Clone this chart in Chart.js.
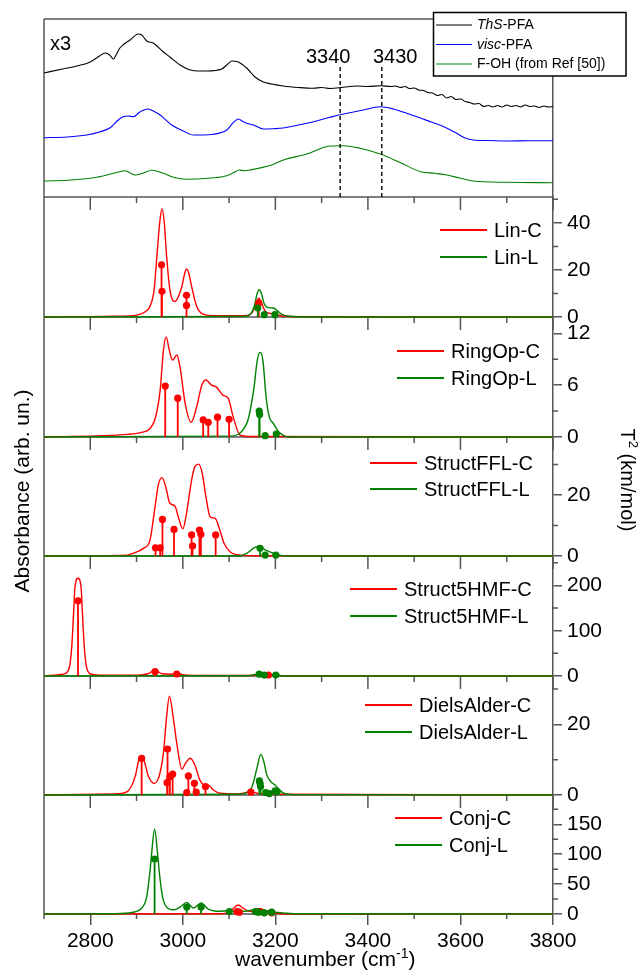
<!DOCTYPE html>
<html>
<head>
<meta charset="utf-8">
<script src="https://cdn.jsdelivr.net/npm/chart.js@4.4.1/dist/chart.umd.min.js"></script>
<style>
  html, body { margin: 0; padding: 0; background: #fff; }
  canvas { display: block; }
</style>
</head>
<body>
<canvas id="spectra" width="644" height="973"></canvas>
<script>
// wavenumber axis (cm-1)
const xMin = 2700, xMax = 3800;
const xMajor = [2800, 3000, 3200, 3400, 3600, 3800];
const xMinor = [2700, 2900, 3100, 3300, 3500, 3700];

// experimental spectra, offset stack (arb. un.)
const thsPfa = [[2700,124],[2740,128],[2771,131],[2800,135],[2820,141],[2832,144],[2842,142],[2850,138],[2857,143],[2864,149],[2886,157],[2904,163],[2910,162.5],[2915,160],[2922,156],[2936,154],[2958,145],[2972,140],[2994,132],[3016,127],[3035,126],[3052,126],[3084,128],[3095,132],[3106,136],[3120,135],[3138,129],[3156,120],[3174,115],[3192,113],[3217,111],[3250,109.5],[3282,108.7],[3300,109.5],[3318,108.5],[3347,109.7],[3376,111],[3400,110.5],[3427,111.3],[3450,110.5],[3460,111],[3470,109.5],[3480,110.5],[3490,108.5],[3500,109],[3510,107],[3520,106.5],[3530,104.5],[3540,104],[3550,101.5],[3560,102.5],[3570,99],[3580,100.5],[3590,97.5],[3600,98],[3610,95.5],[3620,94.5],[3630,93],[3640,93.5],[3650,90.5],[3660,91.5],[3670,90],[3680,91.5],[3690,90],[3700,92],[3710,90.5],[3720,91.5],[3730,90],[3740,92],[3750,90.5],[3760,91],[3770,89.5],[3780,91],[3790,90],[3800,90.5]];
const viscPfa = [[2700,59.3],[2750,60],[2792,62],[2820,65],[2843,69.3],[2858,76],[2871,80.3],[2882,81],[2893,80.3],[2908,85.3],[2924,88],[2940,85],[2951,82],[2976,72],[3001,66],[3023,62],[3045,62],[3066,62.7],[3095,67],[3109,74.3],[3120,78],[3130,75.5],[3138,73.7],[3153,72],[3174,68],[3195,68.3],[3217,69],[3268,73.7],[3318,79.7],[3347,83],[3390,87],[3427,90.3],[3455,88],[3484,83.7],[3535,75.3],[3564,70.3],[3592,63.7],[3610,59],[3628,57],[3660,56.5],[3700,56],[3750,56.3],[3800,56.3]];
const fOh = [[2700,16],[2760,17],[2814,19.7],[2850,23.7],[2865,25.5],[2875,26.3],[2886,24],[2897,22],[2915,24],[2933,26.7],[2958,23.7],[2980,19.7],[3008,17.7],[3060,19],[3095,21.3],[3110,24.5],[3122,27],[3133,26.3],[3142,26.7],[3163,28.7],[3192,32],[3217,37],[3268,43],[3318,51],[3347,51.3],[3383,48.7],[3427,43],[3473,33.7],[3514,25.3],[3545,23.7],[3571,22],[3600,18.7],[3628,16],[3700,14.7],[3800,14.3]];
const expNames = ['ThS-PFA', 'visc-PFA', 'F-OH (from Ref [50])'];
const bandMarks = [3340, 3430];

// computed spectra (broadened) and sticks, T^2 in km/mol
const linC = [[2700,0],[2850,0.3],[2900,0.8],[2915,1.8],[2929,4.5],[2938,11.6],[2944,25.8],[2950,40],[2955,46],[2960,40],[2965,25.8],[2972,11.6],[2978,7.2],[2983,6.6],[2990,8.5],[2998,13],[3004,18.5],[3008,20.4],[3013,18.5],[3019,13],[3030,4.5],[3044,1.2],[3070,0.5],[3140,0.7],[3150,2],[3158,5.5],[3164,8],[3170,6],[3178,2.5],[3190,1.5],[3200,1.2],[3215,0.4],[3260,0.1],[3800,0]];
const linL = [[2700,0],[3130,0.2],[3145,1],[3155,5],[3160,9.5],[3165,11.6],[3170,10],[3176,5.5],[3185,4],[3196,3.8],[3205,2.5],[3215,1],[3230,0.3],[3280,0],[3800,0]];
const linCSticks = [[2954,22.2],[2955,10.9],[3008,9.2],[3008,4.9],[3164,6]];
const linLSticks = [[3162,3.8],[3176,1],[3199,1]];

const ringC = [[2700,0],[2880,0.3],[2908,0.5],[2936,1.55],[2951,5.4],[2958,10],[2964,11.6],[2971,10],[2978,8.9],[2987,9.5],[2994,8.1],[3005,3.9],[3018,1.7],[3030,3.5],[3041,6],[3050,6.6],[3062,6],[3072,5.8],[3088,4.8],[3098,4.5],[3109,2.3],[3124,0.2],[3150,0.05],[3800,0]];
const ringL = [[2700,0],[3100,0.1],[3138,1.55],[3153,5.4],[3161,8.9],[3167,9.8],[3173,8.9],[3180,4.6],[3187,2.3],[3196,1.55],[3207,0.6],[3230,0],[3800,0]];
const ringCSticks = [[2962,5.9],[2989,4.5],[3044,2],[3055,1.7],[3075,2.3],[3100,2.05]];
const ringLSticks = [[3165,3],[3166,2.6],[3178,0.15],[3202,0.35]];

const fflC = [[2700,0],[2880,0.3],[2893,0.9],[2915,2.5],[2929,5.2],[2940,16.2],[2947,23.3],[2955,25.7],[2963,22.7],[2972,17.3],[2983,16.4],[2990,12.9],[3000,8.9],[3008,14],[3019,24.9],[3026,29.3],[3034,30.1],[3042,27.1],[3050,19.4],[3059,12.9],[3070,12.3],[3080,8.5],[3089,4.2],[3102,1.4],[3124,0.3],[3160,0.1],[3800,0]];
const fflL = [[2700,0],[3120,0],[3138,0.9],[3156,2.8],[3167,3.2],[3178,2],[3192,1.1],[3202,0.6],[3216,0.1],[3250,0],[3800,0]];
const fflCSticks = [[2941,2.7],[2951,2.7],[2956,12],[2981,8.7],[3019,6.9],[3021,3.3],[3036,8.5],[3039,7.1],[3071,6.9]];
const fflLSticks = [[3167,2.5],[3178,0.3],[3201,0.3]];

const hmfC = [[2700,0.5],[2740,4],[2749,7.3],[2756,25],[2760,65],[2764,140],[2767,197],[2773.5,216],[2780,197],[2783,140],[2787,65],[2791,25],[2799,5],[2820,2],[2900,2],[2925,5],[2940,13],[2955,5],[2975,4],[2987,6],[3000,3],[3050,1],[3150,1],[3185,3],[3220,0.5],[3800,0]];
const hmfL = [[2700,0],[3140,0.5],[3160,4],[3165,5],[3175,4],[3190,3],[3200,3],[3215,0.5],[3240,0],[3800,0]];
const hmfCSticks = [[2773.5,166],[2940,9.6],[2987,4.4],[3185,2]];
const hmfLSticks = [[3165,4],[3176,2],[3201,2]];

const daC = [[2700,0],[2850,0.3],[2879,0.9],[2897,5.2],[2905,10],[2911,11],[2918,9],[2925,5.5],[2938,3.3],[2948,5],[2958,11.8],[2965,22.2],[2971,28],[2980,21.2],[2987,14.6],[2998,7.3],[3005,8.8],[3016,10.4],[3026,8.5],[3037,4.2],[3048,2.8],[3055,2.8],[3066,1.4],[3080,0.5],[3120,0.3],[3140,0.8],[3148,1],[3160,0.5],[3200,0.2],[3800,0]];
const daL = [[2700,0],[3120,0.2],[3136,0.5],[3150,2.5],[3160,7.5],[3168.5,11.5],[3175,9.5],[3181.5,5.7],[3190,3.8],[3199.5,2.8],[3208,1.6],[3218,0.5],[3240,0.1],[3800,0]];
const daCSticks = [[2911,10.4],[2967,13],[2966,3.5],[2972,5.2],[2978,5.9],[3008.5,0.7],[3012,5.4],[3025,3.3],[3029,0.8],[3049,2.4],[3147,0.8]];
const daLSticks = [[3165.5,4],[3167,3.3],[3168,2.4],[3179,0.7],[3187,0.4],[3199.5,1.2],[3204,0.9]];

const conjC = [[2700,0],[3080,0.3],[3100,3],[3110,10],[3120,15],[3130,10],[3146,4],[3158,7],[3167,9],[3177,6],[3192,3],[3210,0.5],[3250,0],[3800,0]];
const conjL = [[2700,0],[2850,0.5],[2890,2.5],[2907,7],[2916,15],[2922,29],[2929,71],[2932,96],[2939,141.7],[2946,96],[2949,71],[2956,29],[2962,15],[2971,8],[2980,7],[2995,12],[3008.5,19.4],[3023,10],[3039.5,18.3],[3055,8],[3066,5.5],[3080,4.5],[3097,5.5],[3115,4],[3140,5],[3160,8],[3170,7],[3190,4],[3200,3],[3221,1.5],[3250,0.3],[3800,0]];
const conjCSticks = [[3117,4],[3122,3],[3167,4],[3192,2]];
const conjLSticks = [[2939,92],[3008.5,11.7],[3039.5,11.7],[3100.6,4],[3157,4],[3163,3],[3176,2],[3192,3]];

const panelNames = ['Lin', 'RingOp', 'StructFFL', 'Struct5HMF', 'DielsAlder', 'Conj'];
const panelMax = [51, 13.9, 39, 265, 33.7, 199];
const panelTicks = [[0, 20, 40], [0, 6, 12], [0, 20], [0, 100, 200], [0, 20], [0, 50, 100, 150]];
const panelMinor = [[10, 30, 50], [3, 9], [10, 30], [50, 150, 250], [10, 30], [25, 75, 125, 175]];
const panelCurves = [[linC, linL], [ringC, ringL], [fflC, fflL], [hmfC, hmfL], [daC, daL], [conjC, conjL]];
const panelSticks = [[linCSticks, linLSticks], [ringCSticks, ringLSticks], [fflCSticks, fflLSticks], [hmfCSticks, hmfLSticks], [daCSticks, daLSticks], [conjCSticks, conjLSticks]];

// layout
const FONT = "'Liberation Sans', Arial, sans-serif";
const RED = '#ff0000', GREEN = '#008000', FRAME = '#555';
const topHeight = 178;
const panelHeights = [120, 120, 119, 120, 119, 119];
const legendX = [494, 451, 424, 404, 419, 449];
const legendDy = [[33, 60], [34, 61], [26, 52], [33, 60], [29, 56], [23, 50]];
const axisIds = panelNames.map((n, i) => 'y' + i);

const toXY = arr => arr.map(([x, y]) => ({x, y}));
const stems = arr => arr.flatMap(([x, y]) => [{x, y: 0}, {x, y}, {x, y: null}]);
const plain = v => String(v);

const datasets = [];
[[thsPfa, '#000'], [viscPfa, '#0000ff'], [fOh, GREEN]].forEach(([arr, color]) => {
    datasets.push({
        data: toXY(arr), yAxisID: 'yTop', borderColor: color, borderWidth: 1.1,
        pointRadius: 0, cubicInterpolationMode: 'monotone', clip: false, order: 5,
    });
});
panelNames.forEach((name, i) => {
    const id = axisIds[i];
    [RED, GREEN].forEach((color, k) => {
        datasets.push({
            data: toXY(panelCurves[i][k]), yAxisID: id, borderColor: color, borderWidth: 1.4,
            pointRadius: 0, cubicInterpolationMode: 'monotone', clip: false, order: 4 - k,
        });
    });
    [RED, GREEN].forEach((color, k) => {
        datasets.push({
            data: stems(panelSticks[i][k]), yAxisID: id, borderColor: color, borderWidth: 1.8,
            pointRadius: 0, spanGaps: false, clip: false, order: 2 - k,
        });
        datasets.push({
            data: toXY(panelSticks[i][k]), yAxisID: id, showLine: false, pointRadius: 3.6,
            pointBackgroundColor: color, pointBorderColor: color, pointBorderWidth: 0,
            clip: false, order: 2 - k,
        });
    });
});

const scales = {
    x: {
        type: 'linear', position: 'bottom', min: xMin, max: xMax, offset: false,
        afterBuildTicks: s => { s.ticks = xMajor.map(value => ({value})); },
        afterFit: s => { s.height = 59; },
        grid: {drawOnChartArea: false, offset: false, tickLength: 11, color: FRAME, lineWidth: 1.5},
        border: {display: false},
        ticks: {autoSkip: false, maxRotation: 0, padding: 4, color: '#000', font: {size: 21}, callback: plain},
    },
    yTop: {
        type: 'linear', position: 'right', stack: 'panels', stackWeight: topHeight, min: 0, max: 178,
        afterFit: s => { s.width = 91; },
        grid: {display: false},
        border: {display: true, color: FRAME, width: 1.5},
        ticks: {display: false},
    },
};
panelNames.forEach((name, i) => {
    scales[axisIds[i]] = {
        type: 'linear', position: 'right', stack: 'panels', stackWeight: panelHeights[i],
        min: 0, max: panelMax[i],
        afterBuildTicks: s => { s.ticks = panelTicks[i].map(value => ({value})); },
        afterFit: s => { s.width = 91; },
        grid: {drawOnChartArea: false, tickLength: 9, color: FRAME, lineWidth: 1.5},
        border: {display: true, color: FRAME, width: 1.5},
        ticks: {autoSkip: false, padding: 5, color: '#000', font: {size: 21}, callback: plain},
    };
});

// text with mixed runs: [text, size, italic, rise]
function richText(ctx, parts, x, y, align) {
    const font = p => (p[2] ? 'italic ' : '') + p[1] + 'px ' + FONT;
    let w = 0;
    parts.forEach(p => { ctx.font = font(p); w += ctx.measureText(p[0]).width; });
    let cx = align === 'center' ? x - w / 2 : x;
    parts.forEach(p => {
        ctx.font = font(p);
        ctx.fillText(p[0], cx, y - (p[3] || 0));
        cx += ctx.measureText(p[0]).width;
    });
}

const frame = {
    id: 'frame',
    beforeDatasetsDraw(chart) {
        const {ctx, chartArea: a, scales: sc} = chart;
        const x = sc.x;
        ctx.save();
        ctx.strokeStyle = FRAME;
        ctx.lineWidth = 1.5;
        ctx.beginPath();
        ctx.moveTo(a.left, a.top);
        ctx.lineTo(a.left, a.bottom);
        ctx.moveTo(a.left, a.top);
        ctx.lineTo(a.right, a.top);
        const edges = [sc.yTop.bottom, ...axisIds.map(id => sc[id].bottom)];
        edges.forEach(y => { ctx.moveTo(a.left, y); ctx.lineTo(a.right, y); });
        // ticks along each panel's upper edge, pointing into the panel
        edges.slice(0, -1).forEach(y => {
            xMajor.forEach(v => { const px = x.getPixelForValue(v); ctx.moveTo(px, y); ctx.lineTo(px, y + 13); });
            xMinor.forEach(v => { const px = x.getPixelForValue(v); ctx.moveTo(px, y); ctx.lineTo(px, y + 6); });
        });
        // minor ticks under the bottom axis
        xMinor.forEach(v => { const px = x.getPixelForValue(v); ctx.moveTo(px, a.bottom); ctx.lineTo(px, a.bottom + 5); });
        // minor ticks on the T^2 axes
        axisIds.forEach((id, i) => {
            const s = sc[id];
            panelMinor[i].forEach(v => {
                const py = s.getPixelForValue(v);
                ctx.moveTo(s.left, py);
                ctx.lineTo(s.left + 5, py);
            });
        });
        ctx.stroke();
        ctx.restore();
    },
    afterDraw(chart) {
        const {ctx, scales: sc} = chart;
        const x = sc.x;
        ctx.save();
        ctx.fillStyle = '#000';
        ctx.textBaseline = 'alphabetic';

        // band positions in the experimental panel
        ctx.strokeStyle = '#000';
        ctx.lineWidth = 1.4;
        ctx.setLineDash([4, 3]);
        bandMarks.forEach(v => {
            const px = x.getPixelForValue(v);
            ctx.beginPath();
            ctx.moveTo(px, 67);
            ctx.lineTo(px, sc.yTop.bottom);
            ctx.stroke();
        });
        ctx.setLineDash([]);
        ctx.font = '20px ' + FONT;
        ctx.textAlign = 'left';
        ctx.fillText(String(bandMarks[0]), 306, 62.5);
        ctx.fillText(String(bandMarks[1]), 373, 62.5);
        ctx.fillText('x3', 50, 50);

        // legend of the experimental spectra
        ctx.fillStyle = '#fff';
        ctx.fillRect(433, 12, 193, 64);
        ctx.strokeStyle = '#000';
        ctx.lineWidth = 1.5;
        ctx.strokeRect(433.5, 12.5, 192.5, 63.5);
        const expColors = ['#000', '#0000ff', GREEN];
        const expRows = [
            [['ThS', 14, true], ['-PFA', 14]],
            [['visc', 14, true], ['-PFA', 14]],
            [[expNames[2], 14]],
        ];
        [25, 44.5, 64].forEach((y, i) => {
            ctx.strokeStyle = expColors[i];
            ctx.lineWidth = 1.2;
            ctx.beginPath();
            ctx.moveTo(436, y);
            ctx.lineTo(472, y);
            ctx.stroke();
            ctx.fillStyle = '#000';
            ctx.textBaseline = 'middle';
            richText(ctx, expRows[i], 477, y + 0.5, 'left');
        });

        // legends of the computed panels
        axisIds.forEach((id, i) => {
            const top = sc[id].top;
            [RED, GREEN].forEach((color, k) => {
                const y = top + legendDy[i][k];
                ctx.strokeStyle = color;
                ctx.lineWidth = 2;
                ctx.beginPath();
                ctx.moveTo(legendX[i] - 54, y);
                ctx.lineTo(legendX[i] - 7, y);
                ctx.stroke();
                ctx.fillStyle = '#000';
                ctx.font = '20px ' + FONT;
                ctx.textBaseline = 'middle';
                ctx.textAlign = 'left';
                ctx.fillText(panelNames[i] + (k ? '-L' : '-C'), legendX[i], y + 1);
            });
        });

        // axis titles
        ctx.textBaseline = 'alphabetic';
        ctx.textAlign = 'left';
        richText(ctx, [['wavenumber (cm', 21], ['-1', 14, false, 8], [')', 21]], 235, 966, 'left');

        ctx.save();
        ctx.translate(29, 491);
        ctx.rotate(-Math.PI / 2);
        richText(ctx, [['Absorbance (arb. un.)', 21]], 0, 0, 'center');
        ctx.restore();

        ctx.save();
        ctx.translate(621, 480);
        ctx.rotate(Math.PI / 2);
        richText(ctx, [['T', 20], ['2', 13, false, 8], [' (km/mol)', 20]], 0, 0, 'center');
        ctx.restore();

        ctx.restore();
    },
};

Chart.defaults.font.family = FONT;

new Chart(document.getElementById('spectra'), {
    type: 'line',
    data: {datasets},
    options: {
        responsive: false,
        animation: false,
        events: [],
        layout: {padding: {left: 44, top: 19, right: 0, bottom: 0}},
        plugins: {legend: {display: false}, tooltip: {enabled: false}},
        scales,
    },
    plugins: [frame],
});
</script>
</body>
</html>
